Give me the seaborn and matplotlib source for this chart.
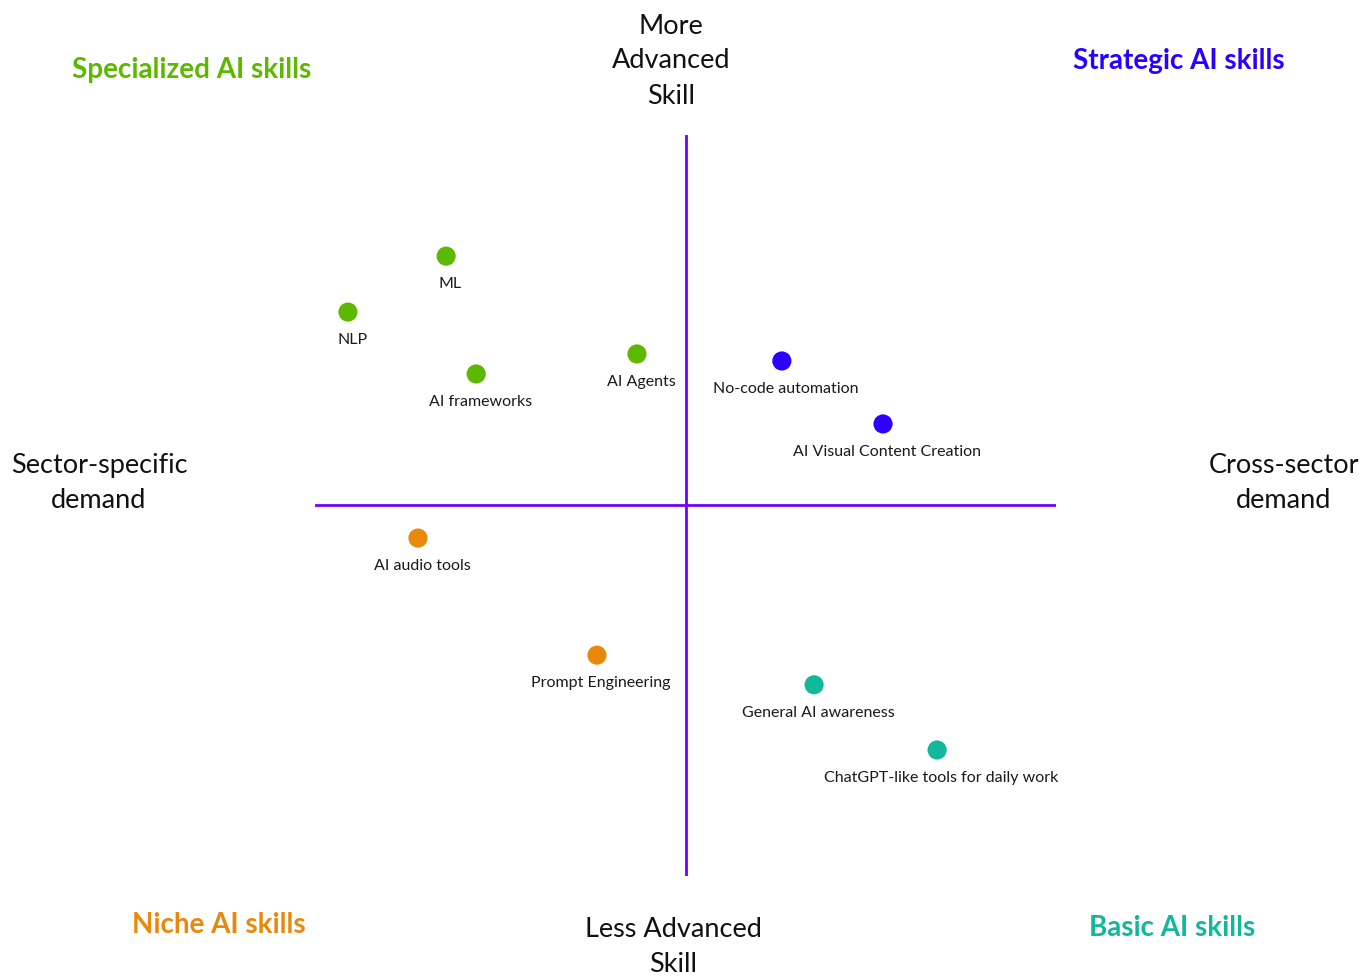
import pandas as pd
import matplotlib.pyplot as plt
import seaborn as sns

# Skill positions: x = cross-sector demand, y = skill level
skills = ["ML", "NLP", "AI frameworks", "AI Agents", "No-code automation",
          "AI Visual Content Creation", "AI audio tools", "Prompt Engineering",
          "General AI awareness", "ChatGPT-like tools for daily work"]
demand = [-6.46, -9.11, -5.65, -1.31, 2.60, 5.33, -7.22, -2.39, 3.47, 6.79]
level = [6.73, 5.22, 3.55, 4.09, 3.90, 2.20, -0.88, -4.04, -4.84, -6.60]
group = ["Specialized", "Specialized", "Specialized", "Specialized", "Strategic",
         "Strategic", "Niche", "Niche", "Basic", "Basic"]

colors = {"Specialized": "#5db800", "Strategic": "#2b00ff",
          "Niche": "#e8890c", "Basic": "#12b89b"}
line_color = "#7000ff"

df = pd.DataFrame({"skill": skills, "x": demand, "y": level, "group": group})

sns.set_theme(style="white")
plt.rcParams["font.family"] = ["Lato", "DejaVu Sans"]

fig = plt.figure(figsize=(13.6, 9.76), dpi=100)
ax = fig.add_axes([0.2316, 0.1025, 0.5449, 0.7592])

ax.axhline(0, color=line_color, lw=2, zorder=1)
ax.axvline(0, color=line_color, lw=2, zorder=1)

sns.scatterplot(data=df, x="x", y="y", hue="group", palette=colors,
                s=190, edgecolor="none", legend=False, ax=ax, zorder=3)

for _, r in df.iterrows():
    ax.annotate(r["skill"], (r["x"], r["y"]), xytext=(3, -20),
                textcoords="offset points", ha="center", va="center",
                fontsize=11.5, color="#1a1a1a")

ax.set_xlim(-10, 10)
ax.set_ylim(-10, 10)
ax.set_axis_off()

# Axis direction labels
side = dict(ha="center", va="center", fontsize=19.5, linespacing=1.5, color="#111111")
fig.text(671 / 1360, 1 - 61 / 976, "More\nAdvanced\nSkill", **side)
fig.text(673 / 1360, 1 - 947 / 976, "Less Advanced\nSkill", **side)
fig.text(99 / 1360, 1 - 483 / 976, "Sector-specific\ndemand", **side)
fig.text(1284 / 1360, 1 - 483 / 976, "Cross-sector\ndemand", **side)

# Quadrant titles
title = dict(ha="center", va="center", fontsize=20, fontweight="bold")
fig.text(192 / 1360, 1 - 70 / 976, "Specialized AI skills", color=colors["Specialized"], **title)
fig.text(1179 / 1360, 1 - 61 / 976, "Strategic AI skills", color=colors["Strategic"], **title)
fig.text(219 / 1360, 1 - 925 / 976, "Niche AI skills", color=colors["Niche"], **title)
fig.text(1172 / 1360, 1 - 928 / 976, "Basic AI skills", color=colors["Basic"], **title)

fig.savefig("out.png", dpi=100, facecolor="white")
